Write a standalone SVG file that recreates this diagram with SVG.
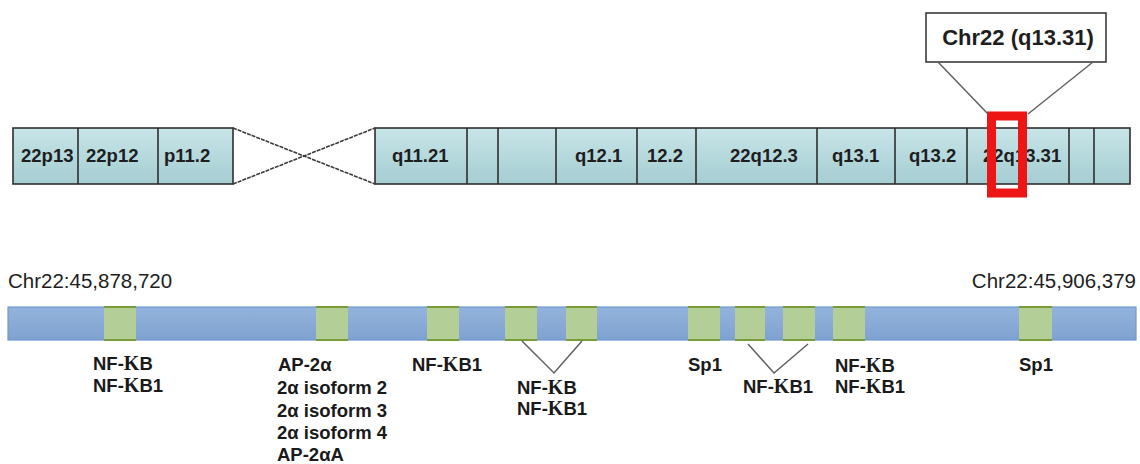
<svg xmlns="http://www.w3.org/2000/svg" width="1140" height="464" viewBox="0 0 1140 464">
  <defs>
    <linearGradient id="bandFill" x1="0" y1="0" x2="0" y2="1">
      <stop offset="0" stop-color="#c8e5e8"/>
      <stop offset="1" stop-color="#a4cdd2"/>
    </linearGradient>
    <linearGradient id="barFill" x1="0" y1="0" x2="0" y2="1">
      <stop offset="0" stop-color="#93b3db"/>
      <stop offset="1" stop-color="#7fa2d0"/>
    </linearGradient>
  </defs>
  <style>
    .band { fill: url(#bandFill); stroke: #2e2e2e; stroke-width: 1.6; }
    .div { stroke: #2e2e2e; stroke-width: 1.6; }
    .blab { font-family: "Liberation Sans", Arial, sans-serif; font-weight: bold; font-size: 18.5px; fill: #1e1e1e; }
    .coord { font-family: "Liberation Sans", Arial, sans-serif; font-size: 20.5px; fill: #1e1e1e; }
    .tf { font-family: "Liberation Sans", Arial, sans-serif; font-weight: bold; font-size: 18.5px; fill: #1a1a1a; }
    .kap { font-family: "Liberation Serif", "Times New Roman", serif; font-weight: bold; font-size: 20px; }
    .site { fill: #b3cf97; }
    .siteEdge { stroke: #7a9c38; stroke-width: 2.2; }
    .link { fill: none; stroke: #606060; stroke-width: 1.5; }
    .cross { stroke: #3c3c3c; stroke-width: 1.6; stroke-dasharray: 4 1; }
  </style>

  <!-- Chromosome 22 ideogram: p arm -->
  <g id="p-arm">
    <rect class="band" x="13" y="128" width="220" height="56"/>
    <line class="div" x1="78" y1="128" x2="78" y2="184"/>
    <line class="div" x1="158" y1="128" x2="158" y2="184"/>
    <text class="blab" x="21" y="162">22p13</text>
    <text class="blab" x="86" y="162">22p12</text>
    <text class="blab" x="164" y="162">p11.2</text>
  </g>

  <!-- Chromosome 22 ideogram: q arm -->
  <g id="q-arm">
    <rect class="band" x="375" y="128" width="755" height="56"/>
    <line class="div" x1="467" y1="128" x2="467" y2="184"/>
    <line class="div" x1="498" y1="128" x2="498" y2="184"/>
    <line class="div" x1="556" y1="128" x2="556" y2="184"/>
    <line class="div" x1="637" y1="128" x2="637" y2="184"/>
    <line class="div" x1="696" y1="128" x2="696" y2="184"/>
    <line class="div" x1="817" y1="128" x2="817" y2="184"/>
    <line class="div" x1="895" y1="128" x2="895" y2="184"/>
    <line class="div" x1="967" y1="128" x2="967" y2="184"/>
    <line class="div" x1="1069" y1="128" x2="1069" y2="184"/>
    <line class="div" x1="1094" y1="128" x2="1094" y2="184"/>
    <text class="blab" x="392" y="162">q11.21</text>
    <text class="blab" x="575" y="162">q12.1</text>
    <text class="blab" x="647" y="162">12.2</text>
    <text class="blab" x="730" y="162">22q12.3</text>
    <text class="blab" x="832" y="162">q13.1</text>
    <text class="blab" x="909" y="162">q13.2</text>
    <text class="blab" x="983" y="162">22q13.31</text>
  </g>

  <!-- Highlighted band -->
  <g id="highlight">
    <rect x="991.5" y="116" width="31" height="77" fill="none" stroke="#ee1515" stroke-width="9"/>
  </g>

  <!-- Callout label -->
  <g id="callout">
    <rect x="926" y="13" width="180" height="49" fill="#ffffff" stroke="#2e2e2e" stroke-width="1.5"/>
    <text x="1018" y="45" text-anchor="middle" font-family="Liberation Sans, Arial, sans-serif" font-weight="bold" font-size="22" fill="#1e1e1e">Chr22 (q13.31)</text>
  </g>

  <!-- Promoter region with binding sites -->
  <g id="promoter">
    <rect x="8" y="307" width="1128" height="33" fill="url(#barFill)" stroke="#6f98d2" stroke-width="1.2"/>
    <g id="sites">
      <rect class="site" x="104" y="307" width="32" height="33"/>
      <rect class="site" x="316" y="307" width="32" height="33"/>
      <rect class="site" x="427" y="307" width="32" height="33"/>
      <rect class="site" x="505" y="307" width="32" height="33"/>
      <rect class="site" x="566" y="307" width="31" height="33"/>
      <rect class="site" x="688" y="307" width="32" height="33"/>
      <rect class="site" x="735" y="307" width="30" height="33"/>
      <rect class="site" x="783" y="307" width="32" height="33"/>
      <rect class="site" x="833" y="307" width="32" height="33"/>
      <rect class="site" x="1019" y="307" width="33" height="33"/>
      <path class="siteEdge" d="M104 307H136M104 340H136M316 307H348M316 340H348M427 307H459M427 340H459M505 307H537M505 340H537M566 307H597M566 340H597M688 307H720M688 340H720M735 307H765M735 340H765M783 307H815M783 340H815M833 307H865M833 340H865M1019 307H1052M1019 340H1052"/>
    </g>
    <text class="coord" x="8" y="288">Chr22:45,878,720</text>
    <text class="coord" x="1136" y="288" text-anchor="end">Chr22:45,906,379</text>
  </g>

  <!-- Connectors -->
  <g id="connectors">
    <line class="cross" x1="233" y1="128" x2="375" y2="184"/>
    <line class="cross" x1="233" y1="184" x2="375" y2="128"/>
    <line class="link" x1="938" y1="62" x2="988" y2="114"/>
    <line class="link" x1="1093" y1="62" x2="1028" y2="114"/>
    <polyline class="link" points="522,341 554,373 582,341"/>
    <polyline class="link" points="748,344 774,373 808,344"/>
  </g>

  <!-- Transcription factor labels -->
  <g id="tf-labels">
    <text class="tf" x="93" y="370">NF-<tspan class="kap">Κ</tspan>B</text>
    <text class="tf" x="93" y="392">NF-<tspan class="kap">Κ</tspan>B1</text>

    <text class="tf" x="278" y="371">AP-2α</text>
    <text class="tf" x="277" y="394">2α isoform 2</text>
    <text class="tf" x="277" y="417">2α isoform 3</text>
    <text class="tf" x="277" y="439">2α isoform 4</text>
    <text class="tf" x="277" y="461">AP-2αA</text>

    <text class="tf" x="412" y="371">NF-<tspan class="kap">Κ</tspan>B1</text>

    <text class="tf" x="517" y="394">NF-<tspan class="kap">Κ</tspan>B</text>
    <text class="tf" x="517" y="415">NF-<tspan class="kap">Κ</tspan>B1</text>

    <text class="tf" x="688" y="371">Sp1</text>
    <text class="tf" x="743" y="393">NF-<tspan class="kap">Κ</tspan>B1</text>

    <text class="tf" x="835" y="372">NF-<tspan class="kap">Κ</tspan>B</text>
    <text class="tf" x="835" y="393">NF-<tspan class="kap">Κ</tspan>B1</text>

    <text class="tf" x="1019" y="371">Sp1</text>
  </g>
</svg>
